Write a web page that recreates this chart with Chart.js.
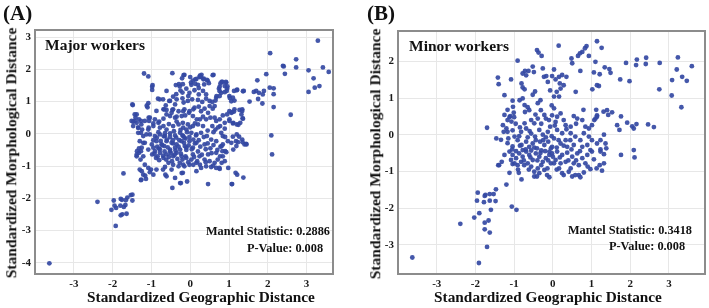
<!DOCTYPE html>
<html>
<head>
<meta charset="utf-8">
<script src="https://cdn.jsdelivr.net/npm/chart.js@4.4.1/dist/chart.umd.min.js"></script>
<style>
  html, body { margin:0; padding:0; background:#fff; }
  #wrap { position:relative; width:709px; height:308px; overflow:hidden; font-family:"Liberation Serif","Times New Roman",serif; color:#111; }
  canvas { position:absolute; top:0; }
  .lbl { position:absolute; white-space:nowrap; font-weight:bold; line-height:1; }
  .ctr { transform:translate(-50%,-50%); }
  .rot { transform:translate(-50%,-50%) rotate(-90deg); }
</style>
</head>
<body>
<div id="wrap">
  <canvas id="chartA" width="355" height="308" style="left:0;width:355px;height:308px"></canvas>
  <canvas id="chartB" width="354" height="308" style="left:355px;width:354px;height:308px"></canvas>

  <div class="lbl" style="left:3px;top:3px;font-size:21px">(A)</div>
  <div class="lbl" style="left:367px;top:3px;font-size:21px">(B)</div>
  <div class="lbl" style="left:45px;top:37px;font-size:15.5px">Major workers</div>
  <div class="lbl" style="left:409px;top:38px;font-size:15.5px">Minor workers</div>
  <div class="lbl" style="left:206px;top:225px;font-size:12.3px">Mantel Statistic: 0.2886</div>
  <div class="lbl" style="left:247px;top:242px;font-size:12.3px">P-Value: 0.008</div>
  <div class="lbl" style="left:568px;top:224px;font-size:12.3px">Mantel Statistic: 0.3418</div>
  <div class="lbl" style="left:609px;top:240px;font-size:12.3px">P-Value: 0.008</div>
  <div class="lbl rot" style="left:11px;top:153px;font-size:15.5px">Standardized Morphological Distance</div>
  <div class="lbl rot" style="left:375px;top:154px;font-size:15.5px">Standardized Morphological Distance</div>
  <div class="lbl ctr" style="left:201px;top:297px;font-size:15.3px">Standardized Geographic Distance</div>
  <div class="lbl ctr" style="left:548px;top:297px;font-size:15.3px">Standardized Geographic Distance</div>
</div>

<script>
// ---- data ----
const xTicks  = [-3, -2, -1, 0, 1, 2, 3];
const yTicksA = [3, 2, 1, 0, -1, -2, -3, -4];
const yTicksB = [2, 1, 0, -1, -2, -3];

// Major workers: [geographic, morphological]
const majorPoints = [
  [-3.63,-4.02],[-2.39,-2.11],[-1.92,-2.86],[-2.03,-2.36],[-1.97,-2.07],[-1.95,-2.23],[-1.91,-2.30],[-1.79,-2.02],
  [-1.76,-2.05],[-1.80,-2.23],[-1.71,-2.27],[-1.67,-2.21],[-1.79,-2.53],[-1.75,-2.50],[-1.64,-2.48],[-1.62,-1.98],
  [-1.66,-2.06],[-1.49,-1.89],[-1.53,-1.90],[-1.49,-2.07],[-1.72,-1.23],
  [3.29,2.89],[2.06,2.50],[2.39,2.11],[2.41,2.09],[2.73,2.31],[2.73,2.06],[2.44,1.86],[3.05,1.97],[3.42,2.06],
  [3.57,1.92],[3.18,1.72],[3.21,1.43],[3.33,1.48],[3.05,1.30],[1.96,1.85],[1.73,1.66],[2.05,1.43],[2.15,1.41],
  [2.15,1.23],[2.15,0.83],[1.64,1.30],[1.70,1.33],[1.77,1.27],[1.87,1.22],[1.90,1.33],[1.53,1.00],[1.75,1.08],
  [1.86,0.94],[1.38,1.33],[1.36,1.32],[1.20,1.35],[2.59,0.59],[2.09,-0.05],[2.11,-0.64],
  [0.93,1.59],[0.83,1.61],[0.78,1.56],[0.89,1.48],[0.95,1.40],[0.74,1.40],[0.80,1.27],[0.89,1.29],[1.01,1.17],
  [1.10,1.12],[1.06,1.01],[1.14,1.03],[0.76,1.17],[0.67,1.12],[0.65,1.03],[0.60,1.83],[0.29,1.83],[0.24,1.76],
  [0.35,1.71],[0.43,1.67],[0.48,1.57],[-0.15,1.83],[0.00,1.76],[0.07,1.65],[0.16,1.70],[0.03,1.52],[0.20,1.52],
  [-0.19,1.54],[-0.10,1.40],[-0.02,1.27],[0.11,1.35],[0.22,1.22],[0.33,1.33],[0.41,1.22],[0.50,1.02],[-0.06,1.02],
  [0.05,1.07],[0.20,1.05],[0.31,0.99],[0.41,1.09],[0.57,0.99],[0.63,0.86],[0.50,0.86],[0.37,0.78],
  [-0.15,0.76],[-0.02,0.70],[0.11,0.81],[0.22,0.84],[0.28,0.70],[0.46,0.65],[0.58,0.78],[0.07,0.55],[0.17,0.45],
  [0.33,0.53],[0.41,0.45],[0.52,0.50],[0.63,0.50],[0.67,0.40],[0.76,0.45],[0.84,0.57],[0.95,0.60],[1.01,0.70],
  [1.08,0.67],[1.14,0.76],[1.27,0.74],[1.34,0.76],[1.32,0.60],[1.36,0.47],[0.89,0.34],[1.01,0.40],[1.10,0.32],
  [1.20,0.29],[1.29,0.34],[0.77,0.24],[0.89,0.16],[0.65,0.13],[0.80,0.03],[0.57,0.24],[0.33,0.24],[0.20,0.29],
  [0.07,0.24],[-0.06,0.29],[-0.19,0.34],[-0.10,0.13],[0.03,0.03],[0.16,-0.02],[0.28,0.03],[0.43,-0.07],[0.54,-0.18],
  [0.67,-0.23],[0.84,-0.07],[0.97,-0.23],[1.10,-0.09],[1.23,-0.26],[1.34,-0.18],[1.40,-0.33],[1.44,-0.31],[1.19,-0.38],
  [0.84,-0.33],[0.37,-0.33],[0.16,-0.28],[-0.02,-0.23],[-0.15,-0.12],[0.07,-0.43],[-0.10,-0.43],
  [1.17,-1.21],[1.21,-1.27],[1.37,-1.36],[1.08,-1.56],[0.46,-1.56],[-0.08,-1.48],[-0.19,-1.21],
  [0.16,-1.16],[0.28,-1.06],[0.41,-1.01],[0.54,-1.03],[0.67,-1.06],[0.76,-1.09],[0.63,-0.90],[0.50,-0.85],[0.37,-0.80],
  [0.24,-0.70],[0.07,-0.64],[-0.02,-0.96],[0.03,-0.80],[0.71,-0.80],[0.84,-0.70],[0.89,-0.85],[0.83,-0.54],[0.93,-0.57],
  [0.67,-0.59],[0.46,-0.64],[-0.10,-0.75],[-0.15,-1.01],[0.16,-0.90],
  [-1.19,1.87],[-1.08,1.78],[-0.46,1.88],[-0.98,1.46],[-0.98,1.36],[-0.29,1.54],[-0.25,1.34],[-0.36,1.23],[-0.79,1.07],
  [-1.08,0.95],[-1.12,0.87],[-1.48,0.89],[-0.63,0.88],[-0.52,1.02],[-0.39,0.91],[-0.46,0.74],[-0.61,0.74],[-0.69,0.76],
  [-1.38,0.60],[-1.41,0.50],[-1.43,0.40],[-1.27,0.40],[-1.17,0.40],[-1.04,0.50],[-1.06,0.40],[-0.91,0.45],[-0.82,0.34],
  [-0.69,0.47],[-0.52,0.55],[-0.39,0.50],[-0.22,0.55],[-0.18,0.70],[-0.30,0.70],
  [-1.51,0.40],[-1.47,0.24],[-1.34,0.19],[-1.24,0.13],[-1.08,0.13],[-0.95,0.24],[-0.78,0.19],[-0.69,0.24],[-0.61,0.13],
  [-0.44,0.24],[-0.30,0.29],[-0.18,0.19],[-1.34,0.03],[-1.21,-0.07],[-1.04,-0.02],[-0.91,-0.07],[-0.78,-0.02],[-0.65,-0.07],
  [-0.52,0.01],[-0.39,-0.05],[-0.26,0.03],[-0.18,-0.07],[-1.30,-0.23],[-1.17,-0.28],[-0.99,-0.33],[-0.87,-0.23],[-0.74,-0.33],
  [-0.61,-0.23],[-0.48,-0.28],[-0.35,-0.33],[-0.22,-0.23],[-1.25,-0.43],[-1.08,-0.49],[-0.95,-0.43],[-0.81,-0.46],[-0.67,-0.38],
  [-0.52,-0.49],[-0.39,-0.43],[-0.26,-0.49],[-0.14,-0.38],
  [-1.38,-0.65],[-1.32,-0.59],[-1.27,-0.54],[-1.21,-0.70],[-1.17,-0.96],[-1.25,-1.16],[-1.21,-1.27],[-1.27,-1.44],[-1.14,-1.40],
  [-1.08,-1.06],[-1.01,-1.11],[-1.04,-1.19],[-0.95,-1.27],[-0.98,-0.64],[-0.91,-0.54],[-0.84,-0.70],[-0.78,-0.59],[-0.69,-0.75],
  [-0.61,-0.64],[-0.52,-0.54],[-0.44,-0.70],[-0.35,-0.59],[-0.22,-0.70],[-0.18,-0.96],[-0.30,-1.01],[-0.44,-0.96],[-0.56,-0.90],
  [-0.65,-1.03],[-0.48,-1.11],[-0.61,-1.32],[-0.39,-1.37],[-0.24,-1.53],[-0.46,-1.68],
  [-0.85,-0.40],[-0.78,-0.48],[-0.72,-0.35],[-0.66,-0.55],[-0.58,-0.42],[-0.50,-0.60],[-0.44,-0.30],[-0.38,-0.52],[-0.30,-0.40],
  [-0.24,-0.62],[-0.16,-0.28],[-0.10,-0.50],[-0.04,-0.36],[0.04,-0.48],[0.12,-0.30],[0.20,-0.55],[0.26,-0.40],[-0.92,-0.62],
  [-0.88,-0.75],[-0.80,-0.82],[-0.70,-0.68],[-0.62,-0.80],[-0.55,-0.72],[-0.47,-0.85],[-0.40,-0.65],[-0.33,-0.78],[-0.27,-0.90],
  [-0.20,-0.80],[-0.12,-0.70],[-0.05,-0.88],[0.10,-0.72],[0.18,-0.85],[0.30,-0.65],[-0.95,-0.20],[-0.86,-0.12],[-0.76,-0.22],
  [-0.68,-0.08],[-0.60,-0.18],[-0.52,-0.10],[-0.45,-0.20],[-0.36,-0.12],[-0.28,-0.20],[-0.20,-0.05],[-0.12,-0.15],[-0.02,-0.10],
  [0.08,-0.18],[0.15,-0.05],[0.22,-0.20],[0.35,-0.10],[0.45,-0.30],[0.52,-0.45],[0.60,-0.35],[0.70,-0.50],[0.78,-0.40],
  [0.55,-0.60],[0.40,-0.48],[-0.82,0.05],[-0.65,0.02],[-0.42,0.08],[-0.25,0.12],[-0.08,0.05],[0.00,0.20],[0.12,0.32],
  [-0.35,0.38],[-0.55,0.30],[0.25,0.45],[0.45,0.10],[0.60,0.05],[0.72,0.20],[0.90,-0.10],
  [1.13,0.69],[1.34,0.71],[1.35,0.48],[1.24,0.28],[1.11,0.34],[1.01,0.45],[1.06,0.65],[1.20,-0.02],[1.26,-0.09],
  [1.18,-0.23],[1.35,-0.26],[1.45,-0.33],[1.06,-0.28],[1.11,-0.49],[0.90,-0.54],[0.81,-0.38],[0.77,-0.70],[0.81,-0.90],
  [0.98,-1.06],[1.07,-1.56],[0.75,-1.06],[0.59,-0.99],[0.40,-0.88],[0.25,-0.96],[0.08,-0.96],[-0.22,-1.22],[-0.26,-1.53],
  [-0.64,-1.27],[-0.70,-1.11],[-0.87,-1.11],[-1.16,-1.30],[-1.26,-1.42],[-1.30,-1.11],[-1.38,-0.70],[-1.37,-0.54],
  [-1.32,-0.45],[-1.28,-0.80],[-1.21,-0.28],[-1.27,0.03],[-1.13,-0.02],[-1.49,0.91],[-1.43,0.60],
  [-0.17,1.82],[-0.21,1.72],[0.25,1.80],[0.28,1.76],[0.34,1.69],[0.45,1.65],[0.58,1.82],[0.13,1.69],[0.02,1.59],
  [0.13,1.55],[-0.37,1.51],[-0.97,1.51],[0.36,1.53],[0.22,1.42],[0.76,1.46],[0.81,1.61],[0.92,1.61],[0.96,1.47],
  [0.76,1.32],[0.68,1.17],[1.21,1.37],[0.94,1.33],[1.02,1.11],[1.13,1.33],
  [-0.70,1.07],[-0.54,1.02],[-0.44,0.76],[-0.35,1.07],[-0.20,1.10],[-0.17,0.97],[-0.05,1.17],[-0.61,1.33],[-0.44,1.15],
  [-0.27,1.47],[-0.20,1.28],[-0.87,0.71],[-0.67,0.76],[-0.61,0.60],[-0.48,0.65],[-0.35,0.53],[-0.13,0.57],[-0.03,0.65],
  [0.08,0.76],[-0.83,1.09],[-1.10,0.82],[-1.07,0.50],[-1.07,0.19],[-0.95,0.32],[-0.80,0.38],[-1.32,0.45],[-1.34,0.19],
  [-1.26,0.29],[-1.38,0.34],[-1.47,0.37]
];

// Minor workers: [geographic, morphological]
const minorPoints = [
  [-3.63,-3.35],[-1.91,-3.50],[-2.39,-2.43],[-2.03,-2.26],[-1.90,-2.14],[-1.94,-1.58],[-1.96,-1.80],[-1.76,-1.67],
  [-1.74,-1.64],[-1.78,-1.84],[-1.63,-1.62],[-1.53,-1.62],[-1.63,-1.80],[-1.48,-1.81],[-1.47,-1.49],[-1.60,-2.05],
  [-1.66,-2.34],[-1.76,-2.40],[-1.76,-2.58],[-1.63,-2.67],[-1.70,-3.06],[-1.06,-1.96],[-0.94,-2.05],[-1.20,-1.36],
  [-0.81,-1.22],[-1.12,-1.04],[-1.39,-0.83],[-1.32,-0.74],[-1.04,-0.80],[-0.88,-1.04],[-0.48,-1.14],[-0.41,-1.14],[-0.09,-1.16],
  [-1.25,-0.55],[-1.12,-0.46],[-1.04,-0.55],[-0.95,-0.64],[-0.87,-0.51],[-0.78,-0.60],[-0.69,-0.46],[-0.61,-0.55],
  [-0.52,-0.69],[-0.44,-0.51],[-0.35,-0.60],[-0.26,-0.74],[-0.18,-0.64],[-0.09,-0.55],[-0.05,-0.78],[-0.14,-0.92],
  [-0.22,-0.96],[-0.30,-0.83],[-0.39,-0.92],[-0.48,-1.01],[-0.56,-0.87],[-0.65,-0.78],[-0.74,-0.83],[-0.82,-0.74],
  [-0.91,-0.83],[-0.99,-0.78],[-1.08,-0.69],[-1.41,-0.83],
  [-1.70,0.19],[-1.40,1.38],[-1.42,1.56],[-1.08,1.51],[-1.25,1.08],[-1.04,0.93],[-1.03,0.76],[-1.01,0.60],[-1.00,0.48],
  [-1.07,0.36],[-0.96,0.30],[-1.25,0.54],[-1.17,0.68],[-1.12,0.48],[-1.29,0.26],[-1.20,0.17],[-1.27,0.08],[-1.17,0.08],
  [-1.04,0.12],[-1.46,-0.10],[-1.34,-0.14],[-1.17,-0.23],[-1.04,-0.32],[-0.91,2.02],[-0.78,1.67],[-0.72,1.74],[-0.69,1.62],
  [-0.63,1.74],[-0.52,1.86],[-0.49,1.71],[-0.41,2.31],[-0.37,2.24],[-0.29,2.15],[-0.26,1.81],[-0.23,1.58],[-0.17,1.60],
  [-0.13,1.44],[-0.81,1.40],[-0.78,1.29],[-0.73,1.24],[-0.86,0.94],[-0.78,0.99],[-0.73,0.81],[-0.65,0.75],[-0.72,0.62],
  [-0.61,0.67],[-0.52,1.09],[-0.46,1.18],[-0.39,0.86],[-0.32,0.94],[-0.31,0.67],[-0.22,0.54],[-0.18,0.44],[-0.56,0.40],
  [-0.48,0.31],[-0.39,0.44],[-0.73,0.31],[-0.69,0.17],[-0.82,0.08],[-0.56,0.03],[-0.46,-0.05],[-0.35,0.13],[-0.26,0.00],
  [-0.13,0.08],[-0.07,0.22],[-1.17,0.40],[-1.10,0.51],[-0.07,1.21],[-0.03,0.80],
  [-0.91,-0.15],[-0.81,-0.28],[-0.69,-0.19],[-0.61,-0.33],[-0.52,-0.24],[-0.41,-0.37],[-0.33,-0.19],[-0.22,-0.28],
  [-0.12,-0.19],[-0.05,-0.37],[-0.78,-0.42],[-0.56,-0.43],[-0.30,-0.43],[-0.09,-0.46],[-0.99,-0.05],[-0.87,-0.04],
  [-0.65,-0.07],[-0.44,-0.15],[-0.18,-0.07],[-0.03,-0.04],
  [0.15,2.43],[1.14,2.55],[1.26,2.37],[0.87,2.42],[0.83,2.36],[0.76,2.26],[0.70,2.22],[0.65,2.15],[0.93,2.15],
  [0.48,2.08],[0.50,1.95],[1.10,1.99],[0.71,1.74],[1.06,1.70],[1.21,1.65],[1.34,1.84],[1.46,1.79],[1.49,1.69],
  [1.89,1.96],[2.17,2.05],[2.15,1.90],[2.41,2.10],[2.40,1.93],[2.76,1.96],[3.23,2.11],[3.20,1.78],[3.59,1.87],
  [3.34,1.58],[3.46,1.47],[3.08,1.49],[1.74,1.51],[1.98,1.46],[2.75,1.24],[3.07,1.07],[3.32,0.75],[1.02,1.24],
  [1.14,1.35],[1.19,1.33],[0.59,1.17],[0.79,0.68],[1.12,0.68],[1.31,0.63],[1.40,0.67],[1.53,0.61],[1.43,0.54],
  [1.14,0.49],[1.07,0.40],[1.76,0.50],[1.66,0.26],[1.72,0.13],[1.92,0.33],[2.05,0.23],[2.09,0.17],[2.16,0.29],
  [2.46,0.28],[2.61,0.21],[2.09,-0.42],
  [0.03,1.78],[-0.02,1.60],[0.07,1.51],[0.16,1.58],[0.24,1.63],[0.18,1.40],[0.28,1.35],[0.35,1.58],[0.10,1.17],
  [0.16,1.04],[0.03,1.04],[0.20,1.26],
  [0.03,0.72],[0.11,0.49],[-0.02,0.53],[0.20,0.58],[0.07,0.35],[0.28,0.40],[0.33,0.26],[0.46,0.22],[0.54,0.51],
  [0.63,0.44],[0.76,0.40],[0.84,0.22],[0.93,0.17],[1.01,0.26],[1.10,0.44],[1.14,0.53],[0.46,0.04],[0.58,-0.05],
  [0.71,-0.15],[0.80,0.04],[0.93,-0.05],[1.01,-0.15],[1.14,-0.24],[1.23,-0.15],[1.32,0.00],[1.36,-0.24],[1.38,-0.37],
  [1.23,-0.40],[0.11,0.13],[0.24,0.04],[0.33,-0.15],[0.20,-0.24],[0.03,-0.10],[-0.02,-0.33],[0.37,-0.33],[0.54,-0.28],
  [0.76,-0.33],[0.89,-0.28],[0.97,-0.42],
  [1.76,-0.55],[2.11,-0.62],[1.23,-0.46],[1.32,-0.53],[1.06,-0.67],[1.21,-0.83],[1.32,-0.78],[0.97,-0.94],[1.13,-0.92],
  [1.27,-0.98],[0.71,-1.16],[0.80,-1.03],[0.58,-1.10],[0.28,-1.10],[0.46,-0.92],[0.20,-0.78],[0.03,-0.78],
  [-0.02,-0.51],[0.11,-0.46],[0.24,-0.55],[0.37,-0.49],[0.50,-0.60],[0.63,-0.51],[0.76,-0.64],[0.89,-0.55],[1.01,-0.46],
  [0.07,-0.69],[0.33,-0.74],[0.54,-0.78],[0.67,-0.83],[0.84,-0.78],[0.16,-0.92],[0.41,-1.01],[0.24,-1.05],[0.50,-1.14],
  [0.67,-1.10],[0.90,-0.87],
  [-0.85,-0.30],[-0.70,-0.40],[-0.58,-0.62],[-0.48,-0.35],[-0.40,-0.70],[-0.32,-0.50],[-0.20,-0.45],[-0.12,-0.70],
  [0.00,-0.60],[0.10,-0.35],[0.18,-0.62],[0.28,-0.30],[0.40,-0.70],[0.48,-0.40],[0.60,-0.70],[0.70,-0.45],[-0.95,-0.45],
  [-0.75,-0.70],[-0.62,-0.95],[-0.35,-1.05],[-0.15,-1.10],[0.10,-0.95],[-0.90,-0.95],[-1.05,-0.40],[-1.15,-0.10],
  [-0.25,-0.15],[0.15,-0.15],[0.45,-0.15],[-0.60,0.10],[-0.30,0.30],[0.05,0.25],[-0.85,0.20],[0.35,0.15],[0.60,0.30],
  [-0.45,0.55],[-0.10,0.40]
];

const DOT = 'rgba(52,73,163,0.92)';
const FONT = 'Liberation Serif';

// full box around the plot area
const framePlugin = {
  id: 'frame',
  afterDatasetsDraw(chart) {
    const { ctx, chartArea: a } = chart;
    ctx.save();
    ctx.strokeStyle = '#8c8c8c';
    ctx.lineWidth = 2;
    ctx.strokeRect(a.left, a.top, a.right - a.left, a.bottom - a.top);
    ctx.restore();
  }
};

function makeScatter(id, pts, o) {
  const tickFont = { family: FONT, size: 11, weight: 'bold' };
  return new Chart(document.getElementById(id), {
    type: 'scatter',
    data: {
      datasets: [{
        data: pts.map(p => ({ x: p[0], y: p[1] })),
        backgroundColor: DOT,
        borderWidth: 0,
        pointRadius: 2.4
      }]
    },
    options: {
      responsive: false,
      animation: false,
      layout: { padding: { left: 0, right: o.padRight, top: o.padTop, bottom: 0 } },
      plugins: { legend: { display: false }, tooltip: { enabled: false } },
      scales: {
        x: {
          type: 'linear', min: o.xMin, max: o.xMax,
          afterBuildTicks: s => { s.ticks = xTicks.map(v => ({ value: v })); },
          afterFit: s => { s.height = 34; },
          ticks: { font: tickFont, color: '#1a1a1a', padding: 4 },
          grid: { color: '#e7e7e7', drawTicks: false },
          border: { display: false }
        },
        y: {
          type: 'linear', min: o.yMin, max: o.yMax,
          afterBuildTicks: s => { s.ticks = o.yTicks.map(v => ({ value: v })); },
          afterFit: s => { s.width = o.yWidth; },
          ticks: { font: tickFont, color: '#1a1a1a', padding: 4 },
          grid: { color: '#e7e7e7', drawTicks: false },
          border: { display: false }
        }
      }
    },
    plugins: [framePlugin]
  });
}

makeScatter('chartA', majorPoints, {
  xMin: -4.0, xMax: 3.68, yMin: -4.35, yMax: 3.22, yTicks: yTicksA,
  yWidth: 35, padRight: 22, padTop: 30
});
makeScatter('chartB', minorPoints, {
  xMin: -4.0, xMax: 3.93, yMin: -3.80, yMax: 2.83, yTicks: yTicksB,
  yWidth: 43, padRight: 3, padTop: 31
});
</script>
</body>
</html>
